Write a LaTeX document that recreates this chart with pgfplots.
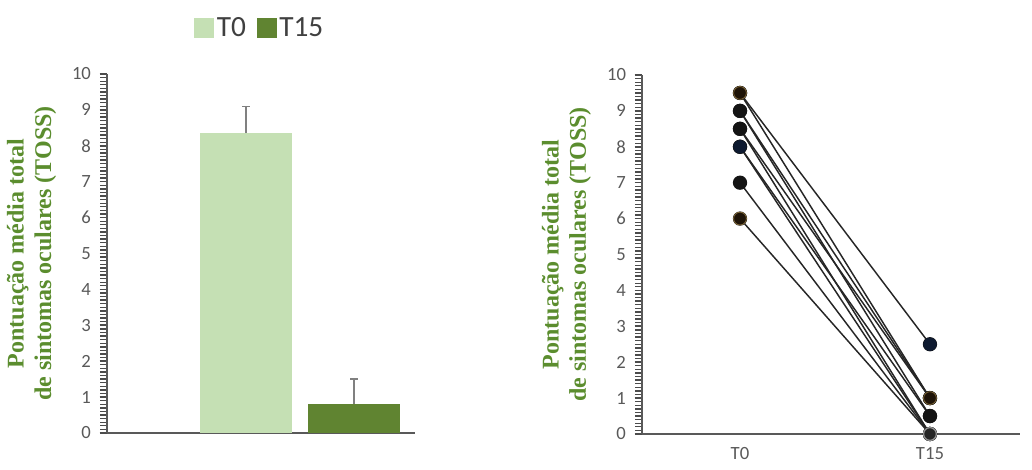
\documentclass[border=0pt]{standalone}
\usepackage{pgfplots}
\pgfplotsset{compat=1.18}
\usepackage{fontspec}
\setmainfont{Carlito}
\newfontfamily\labelfont{Liberation Serif}
\definecolor{lightg}{HTML}{C5E0B4}
\definecolor{darkg}{HTML}{608431}
\definecolor{labg}{HTML}{5B8D2E}
\definecolor{axgray}{HTML}{595959}
\definecolor{tickgray}{HTML}{595959}
\definecolor{navyk}{HTML}{0E1A30}
\definecolor{brownk}{HTML}{1E1408}
\definecolor{halo}{HTML}{B89450}
\begin{document}
\begin{tikzpicture}
\path[use as bounding box] (0,0) rectangle (774pt,352.5pt);
\pgfplotsset{
  common/.style={
    scale only axis,
    height=269.25pt,
    ymin=0, ymax=10,
    ytick={0,1,...,10},
    minor y tick num=9,
    axis x line*=bottom,
    axis y line*=left,
    axis line style={axgray, line width=1.1pt, -},
    tick style={black!70, line width=1.2pt},
    minor tick style={black!70, line width=1pt},
    tick align=outside,
    major tick length=5.5pt,
    minor tick length=5pt,
    /pgf/number format/assume math mode=true,
    tick label style={font=\fontsize{14}{16}\selectfont, text=tickgray},
    yticklabel style={xshift=-3pt},
    ylabel={Pontuação média total\\de sintomas oculares (TOSS)},
    ylabel style={anchor=center, rotate=0,
      align=center, font=\labelfont\bfseries\fontsize{18}{20.5}\selectfont, text=labg},
  },
  pair/.style={black!85, solid, line width=1.1pt, mark=*, mark size=4.8pt,
    mark options={solid, fill=black!92, draw=black!92}},
  dot/.style={only marks, mark=*, mark size=4.8pt},
}
% Left panel: bar chart
\begin{axis}[common,
  at={(80.25pt,27.75pt)}, anchor=south west,
  width=231pt,
  xmin=0, xmax=308,
  xtick=\empty,
  ylabel style={at={(axis description cs:-0.245,0.5)}},
  legend style={at={(axis description cs:0.497,1.128)}, anchor=center, draw=none,
    legend columns=2, font=\fontsize{22}{24}\selectfont, text=black!75,
    /tikz/every even column/.append style={column sep=6pt}},
  legend image code/.code={\fill[#1] (0pt,-7.5pt) rectangle (15pt,7.5pt);},
]
\addplot[ybar, bar width=69pt, bar shift=0pt, fill=lightg, draw=none,
  error bars/.cd, y dir=plus, y explicit,
  error bar style={color=gray, line width=1.1pt}, error mark options={rotate=90, mark size=3pt, gray, line width=1.1pt}]
  coordinates {(139,8.35) +- (0,0.75)};
\addlegendentry{T0}
\addplot[ybar, bar width=69pt, bar shift=0pt, fill=darkg, draw=none,
  error bars/.cd, y dir=plus, y explicit,
  error bar style={color=gray, line width=1.1pt}, error mark options={rotate=90, mark size=3pt, gray, line width=1.1pt}]
  coordinates {(247,0.8) +- (0,0.7)};
\addlegendentry{T15}
\end{axis}
% Right panel: paired lines
\begin{axis}[common,
  at={(481.5pt,27pt)}, anchor=south west,
  width=283.5pt,
  xmin=-0.516, xmax=1.474,
  xtick={0,1}, xticklabels={T0,T15},
  major x tick style={draw=none},
  xticklabel style={yshift=-1pt},
  ylabel style={at={(axis description cs:-0.1997,0.5)}},
  clip=false,
]
\addplot[pair] coordinates {(0,9.5) (1,2.5)};
\addplot[pair] coordinates {(0,9.5) (1,1)};
\addplot[pair] coordinates {(0,9) (1,1)};
\addplot[pair] coordinates {(0,9) (1,0.5)};
\addplot[pair] coordinates {(0,8.5) (1,1)};
\addplot[pair] coordinates {(0,8.5) (1,0)};
\addplot[pair] coordinates {(0,8) (1,0.5)};
\addplot[pair] coordinates {(0,8) (1,0)};
\addplot[pair] coordinates {(0,7) (1,0)};
\addplot[pair] coordinates {(0,6) (1,0)};
\addplot[dot, mark options={fill=navyk, draw=navyk}] coordinates {(0,8) (1,2.5)};
\addplot[dot, mark options={fill=brownk, draw=halo!70!black, line width=0.6pt}] coordinates {(0,9.5) (0,6) (1,1)};
\addplot[dot, mark options={fill=black!85, draw=gray!85, line width=1pt}] coordinates {(1,0)};
\end{axis}
\end{tikzpicture}
\end{document}
